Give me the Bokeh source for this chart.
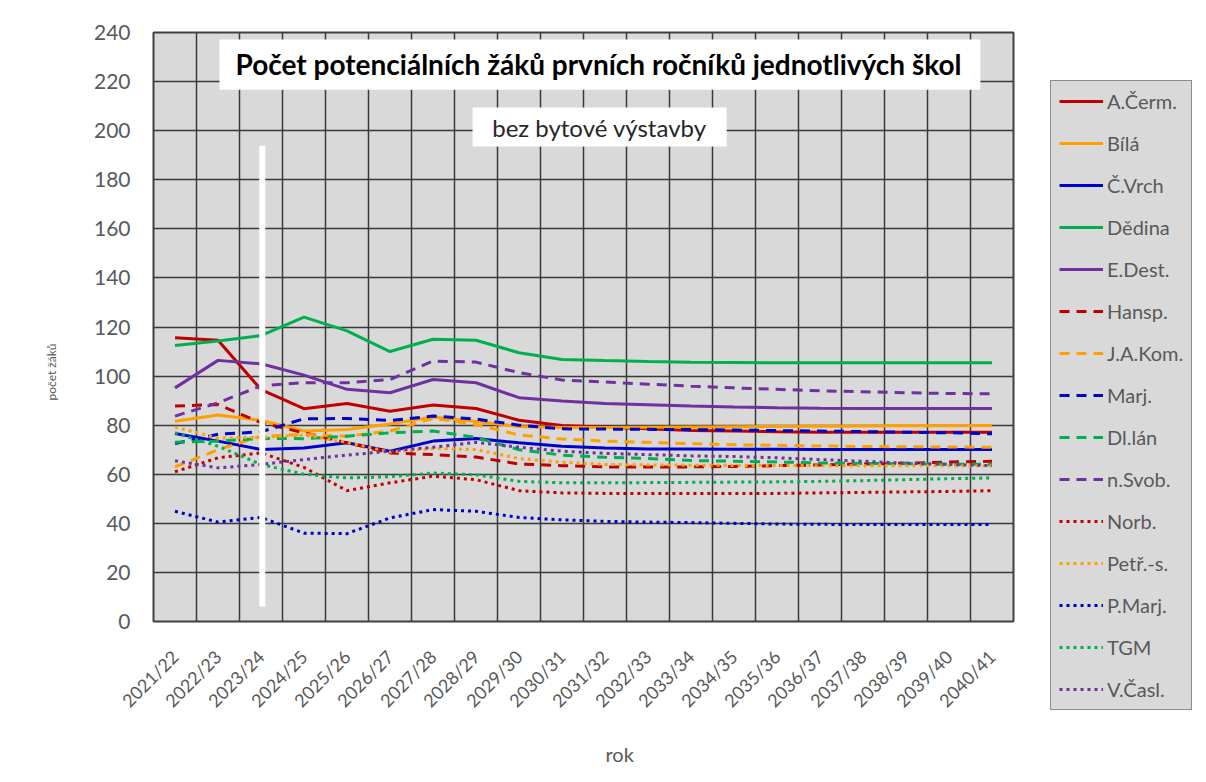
import math
from bokeh.plotting import figure
from bokeh.models import Range1d, FixedTicker, Legend, LegendItem, Label, BoxAnnotation, Title
from bokeh.embed import file_html
from bokeh.resources import INLINE

years = ["2021/22", "2022/23", "2023/24", "2024/25", "2025/26", "2026/27", "2027/28",
         "2028/29", "2029/30", "2030/31", "2031/32", "2032/33", "2033/34", "2034/35",
         "2035/36", "2036/37", "2037/38", "2038/39", "2039/40", "2040/41"]

a_cerm = [115.6, 114.6, 94.5, 86.7, 88.8, 85.7, 88.2, 86.8, 82.0, 79.9, 79.2, 78.5, 77.8, 77.6, 77.3, 77.1, 77.1, 77.1, 77.1, 77.1]
bila = [81.6, 84.1, 82.0, 77.6, 78.2, 80.5, 83.3, 81.5, 79.5, 79.0, 79.0, 79.2, 79.3, 79.4, 79.5, 79.6, 79.7, 79.8, 79.8, 79.9]
c_vrch = [76.6, 73.5, 70.1, 70.7, 72.8, 69.4, 73.5, 74.6, 72.8, 71.4, 70.7, 70.3, 70.3, 70.2, 70.2, 70.1, 70.1, 70.1, 70.1, 70.1]
dedina = [112.5, 114.3, 116.5, 124.0, 118.4, 110.0, 115.0, 114.6, 109.5, 106.8, 106.3, 105.9, 105.6, 105.5, 105.4, 105.4, 105.4, 105.4, 105.4, 105.4]
e_dest = [95.2, 106.4, 105.0, 100.4, 94.6, 93.2, 98.6, 97.3, 91.2, 89.8, 88.8, 88.3, 87.8, 87.4, 87.1, 86.9, 86.8, 86.8, 86.8, 86.8]
hansp = [87.8, 88.4, 81.0, 76.9, 72.8, 68.7, 68.0, 67.0, 64.2, 63.5, 63.0, 63.0, 63.0, 63.2, 63.5, 63.8, 64.2, 64.5, 65.0, 65.3]
ja_kom = [63.0, 70.0, 75.5, 76.2, 75.5, 77.6, 82.8, 80.3, 76.0, 74.4, 73.5, 73.0, 72.5, 72.0, 71.8, 71.5, 71.3, 71.2, 71.1, 71.0]
marj = [72.5, 76.3, 77.3, 82.6, 82.7, 81.9, 83.7, 82.5, 80.0, 78.5, 78.4, 78.3, 78.2, 78.0, 77.8, 77.6, 77.4, 77.1, 76.9, 76.5]
dl_lan = [73.0, 73.5, 74.6, 74.5, 75.5, 76.9, 77.6, 75.0, 70.0, 67.8, 66.9, 66.4, 65.6, 65.3, 65.0, 64.6, 64.4, 64.3, 64.1, 64.0]
n_svob = [83.7, 89.1, 96.0, 97.3, 97.3, 98.6, 106.1, 105.7, 101.4, 98.4, 97.6, 96.7, 95.9, 95.2, 94.6, 94.0, 93.6, 93.2, 92.9, 92.8]
norb = [61.0, 66.7, 68.7, 62.8, 53.3, 56.5, 59.2, 57.8, 53.3, 52.4, 52.2, 52.2, 52.2, 52.2, 52.2, 52.4, 52.6, 52.8, 53.0, 53.3]
petr_s = [79.2, 74.8, 75.0, 76.0, 73.0, 69.1, 70.5, 70.1, 66.4, 64.9, 64.0, 63.8, 63.7, 63.6, 63.6, 63.5, 63.5, 63.5, 63.5, 63.5]
p_marj = [44.9, 40.5, 42.4, 36.0, 35.8, 42.2, 45.6, 44.9, 42.4, 41.4, 40.8, 40.5, 40.3, 40.0, 39.7, 39.6, 39.5, 39.5, 39.5, 39.5]
tgm = [76.9, 71.4, 64.0, 60.0, 58.5, 59.0, 60.5, 59.8, 57.1, 56.5, 56.5, 56.6, 56.7, 56.8, 56.9, 57.1, 57.4, 57.8, 58.2, 58.5]
v_casl = [65.5, 62.6, 64.0, 66.0, 67.8, 69.4, 71.0, 73.0, 71.0, 69.4, 68.5, 68.0, 67.5, 67.2, 66.7, 66.0, 65.3, 64.5, 64.0, 63.5]

names = ["A.Čerm.", "Bílá", "Č.Vrch", "Dědina", "E.Dest.", "Hansp.", "J.A.Kom.", "Marj.",
         "Dl.lán", "n.Svob.", "Norb.", "Petř.-s.", "P.Marj.", "TGM", "V.Časl."]
series = [a_cerm, bila, c_vrch, dedina, e_dest, hansp, ja_kom, marj, dl_lan, n_svob,
          norb, petr_s, p_marj, tgm, v_casl]

RED, ORANGE, BLUE, GREEN, PURPLE = "#C00000", "#FF9F00", "#0000CC", "#00B050", "#7030A0"
colors = [RED, ORANGE, BLUE, GREEN, PURPLE] * 3
dashes = ["solid"] * 5 + ["10 7"] * 5 + ["3 4"] * 5

FONT = "Lato"
GRAY = "#595959"

p = figure(frame_width=860, frame_height=589, output_backend="svg", toolbar_location=None,
           x_range=Range1d(-0.5, 19.5), y_range=Range1d(0, 240),
           min_border_left=153, min_border_right=193, min_border_top=32, min_border_bottom=159)
p.background_fill_color = "#d9d9d9"
p.border_fill_color = "white"
p.outline_line_color = "#404040"
p.outline_line_width = 2

p.xgrid.ticker = FixedTicker(ticks=[k - 0.5 for k in range(21)])
p.ygrid.ticker = FixedTicker(ticks=list(range(0, 241, 20)))
for g in (p.xgrid, p.ygrid):
    g.grid_line_color = "#3a3a3a"
    g.grid_line_width = 1.5

xs = list(range(len(years)))

p.xaxis.ticker = FixedTicker(ticks=xs)
p.xaxis.major_label_overrides = {i: y for i, y in enumerate(years)}
p.xaxis.major_label_orientation = math.pi / 4
p.yaxis.ticker = FixedTicker(ticks=list(range(0, 241, 20)))
for ax in (p.xaxis[0], p.yaxis[0]):
    ax.axis_line_color = None
    ax.major_tick_line_color = None
    ax.minor_tick_line_color = None
    ax.major_tick_out = 0
    ax.major_tick_in = 0
    ax.major_label_text_font = FONT
    ax.major_label_text_color = GRAY
p.xaxis.major_label_text_font_size = "18px"
p.xaxis.major_label_standoff = 32
p.yaxis.major_label_text_font_size = "21px"
p.yaxis.major_label_standoff = 23

items = []
for name, vals, col, dash in zip(names, series, colors, dashes):
    r = p.line(x=xs, y=vals, line_color=col, line_width=3, line_dash=dash)
    items.append(LegendItem(label=name, renderers=[r]))

# white vertical separator
p.segment(x0=[2.03], y0=[6.1], x1=[2.03], y1=[193.9], line_color="white", line_width=6)

# title boxes
p.add_layout(BoxAnnotation(left=1.035, right=18.73, top=237.1, bottom=216.7,
                           fill_color="white", fill_alpha=1, line_color=None))
p.add_layout(Label(x=9.85, y=227.0, text="Počet potenciálních žáků prvních ročníků jednotlivých škol",
                   text_align="center", text_baseline="middle", text_font=FONT,
                   text_font_style="bold", text_font_size="28px", text_color="black"))
p.add_layout(BoxAnnotation(left=6.92, right=12.83, top=209.4, bottom=193.5,
                           fill_color="white", fill_alpha=1, line_color=None))
p.add_layout(Label(x=9.87, y=201.4, text="bez bytové výstavby",
                   text_align="center", text_baseline="middle", text_font=FONT,
                   text_font_size="24px", text_color="#262626"))

# axis titles
p.add_layout(Title(text="rok", align="left", offset=452, standoff=34, text_font=FONT,
                   text_font_style="normal", text_font_size="20px", text_color=GRAY), "below")
p.add_layout(Title(text="počet žáků", align="left", offset=221, standoff=64, text_font=FONT,
                   text_font_style="normal", text_font_size="12px", text_color=GRAY), "left")

legend = Legend(items=items, location=(37, -89), orientation="vertical",
                glyph_width=44, glyph_height=24, label_height=24, spacing=18, padding=8,
                label_standoff=4, margin=0,
                border_line_color="#404040", border_line_width=1.5,
                background_fill_color="#d9d9d9", background_fill_alpha=1,
                label_text_font=FONT, label_text_font_size="20px", label_text_color=GRAY)
p.add_layout(legend, "right")

open("out.html", "w").write(file_html(p, INLINE))
